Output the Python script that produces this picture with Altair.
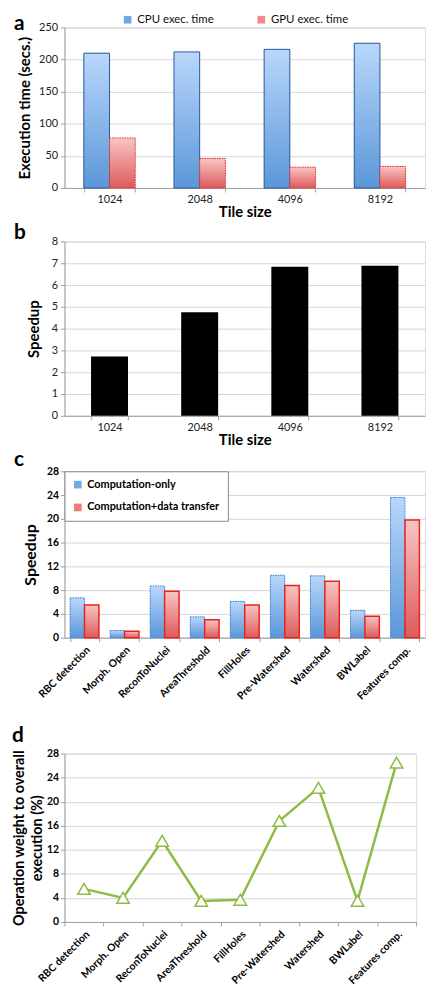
import altair as alt
import pandas as pd

# ---------------- data ----------------
tiles = ["1024", "2048", "4096", "8192"]
cpu_time = [210, 212, 216, 225.5]
gpu_time = [78, 46, 32.5, 33.5]
tile_speedup = [2.72, 4.75, 6.84, 6.89]

ops = ["RBC detection", "Morph. Open", "ReconToNuclei", "AreaThreshold", "FillHoles",
       "Pre-Watershed", "Watershed", "BWLabel", "Features comp."]
comp_only = [6.7, 1.2, 8.7, 3.5, 6.1, 10.5, 10.4, 4.6, 23.6]
comp_transfer = [5.5, 1.1, 7.8, 3.0, 5.5, 8.8, 9.5, 3.6, 19.8]
op_weight = [5.5, 4.0, 13.5, 3.5, 3.7, 16.8, 22.3, 3.5, 26.5]

series_a = ["CPU exec. time", "GPU exec. time"]
series_c = ["Computation-only", "Computation+data transfer"]

FONT = "Lato"
GRID = "#d6d6d6"
DOMAIN = "#a0a0a0"

def grad(top, bottom):
    return alt.LinearGradient(
        gradient="linear",
        stops=[alt.GradientStop(color=top, offset=0), alt.GradientStop(color=bottom, offset=1)],
        x1=0, x2=0, y1=0, y2=1)

BLUE_G = grad("#b9d7fb", "#5b97d9")
RED_G = grad("#f9c4c4", "#dd5b5b")

def letter(ch, x, y):
    return alt.Chart(alt.Data(values=[{"k": 1}])).mark_text(
        text=ch, font=FONT, fontSize=21, fontWeight="bold", align="left",
        baseline="alphabetic", color="black"
    ).encode(x=alt.value(x), y=alt.value(y))

def band_axis(title):
    return alt.Axis(title=title, labelAngle=0, tickBand="extent", labelFontSize=11,
                    labelColor="#222", titleFontSize=15, titleFontWeight="bold",
                    titlePadding=0, labelPadding=2, tickSize=4, domainColor=DOMAIN,
                    tickColor=DOMAIN, labelFont=FONT, titleFont=FONT)

def rot_axis():
    return alt.Axis(title=None, labelAngle=-45, tickBand="extent", labelFontSize=10.5,
                    labelFontWeight="bold", labelColor="black", labelPadding=3, tickSize=4,
                    domainColor=DOMAIN, tickColor=DOMAIN, labelFont=FONT)

# ---------------- panel a ----------------
dfa = pd.DataFrame({
    "tile": tiles * 2,
    "series": [series_a[0]] * 4 + [series_a[1]] * 4,
    "time": cpu_time + gpu_time,
})
xa = alt.X("tile:N", sort=tiles, scale=alt.Scale(paddingInner=0.43, paddingOuter=0.215),
           axis=band_axis("Tile size"))
ya = alt.Y("time:Q", scale=alt.Scale(domain=[0, 250], nice=False),
           axis=alt.Axis(title="Execution time (secs.)", values=[0, 50, 100, 150, 200, 250],
                         gridColor=GRID, domainColor=DOMAIN, tickColor=DOMAIN, tickSize=4,
                         labelFontSize=11, labelColor="#222", titleFontSize=15,
                         titleFontWeight="bold", titlePadding=6, labelPadding=3,
                         labelFont=FONT, titleFont=FONT))
xoa = alt.XOffset("series:N", sort=series_a)
base_a = alt.Chart(dfa)
a0 = base_a.mark_bar().encode(
    x=xa, xOffset=xoa, y=ya,
    color=alt.Color("series:N", sort=series_a,
                    scale=alt.Scale(domain=series_a, range=["#6fa6e4", "#f08a8a"]),
                    legend=alt.Legend(title=None, orient="none", direction="horizontal",
                                      legendX=58, legendY=-14, symbolType="square",
                                      symbolSize=60, symbolStrokeWidth=1,
                                      labelFontSize=11.5, labelFont=FONT, columnPadding=42,
                                      labelColor="#111")))
a1 = base_a.transform_filter(alt.datum.series == series_a[0]).mark_bar(
    fill=BLUE_G, stroke="#2d5a96", strokeWidth=1).encode(x=xa, xOffset=xoa, y=ya)
a2 = base_a.transform_filter(alt.datum.series == series_a[1]).mark_bar(
    fill=RED_G, stroke="#e5302a", strokeWidth=1, strokeDash=[1.5, 1]).encode(x=xa, xOffset=xoa, y=ya)
panel_a = alt.layer(a0, a1, a2, letter("a", -51, 3)).properties(width=364, height=162)

# ---------------- panel b ----------------
dfb = pd.DataFrame({"tile": tiles, "speedup": tile_speedup})
panel_b_bars = alt.Chart(dfb).mark_bar(color="black").encode(
    x=alt.X("tile:N", sort=tiles, scale=alt.Scale(paddingInner=0.59, paddingOuter=0.295),
            axis=band_axis("Tile size")),
    y=alt.Y("speedup:Q", scale=alt.Scale(domain=[0, 8], nice=False),
            axis=alt.Axis(title="Speedup", values=list(range(0, 9)), gridColor=GRID,
                          domainColor=DOMAIN, tickColor=DOMAIN, tickSize=4, labelFontSize=11,
                          labelColor="#222", titleFontSize=15, titleFontWeight="bold",
                          titlePadding=10, labelPadding=3, labelFont=FONT, titleFont=FONT)))
panel_b = alt.layer(panel_b_bars, letter("b", -51, -3)).properties(width=364, height=176)

# ---------------- panel c ----------------
dfc = pd.DataFrame({
    "op": ops * 2,
    "series": [series_c[0]] * 9 + [series_c[1]] * 9,
    "speedup": comp_only + comp_transfer,
})
xc = alt.X("op:N", sort=ops, scale=alt.Scale(paddingInner=0.28, paddingOuter=0.14),
           axis=rot_axis())
yc = alt.Y("speedup:Q", scale=alt.Scale(domain=[0, 28], nice=False),
           axis=alt.Axis(title="Speedup", values=list(range(0, 29, 4)), gridColor=GRID,
                         domainColor=DOMAIN, tickColor=DOMAIN, tickSize=4, labelFontSize=10.5,
                         labelFontWeight="bold", labelColor="black", titleFontSize=16,
                         titleFontWeight="bold", titlePadding=8, labelPadding=2,
                         labelFont=FONT, titleFont=FONT))
xoc = alt.XOffset("series:N", sort=series_c)
base_c = alt.Chart(dfc)
c0 = base_c.mark_bar().encode(
    x=xc, xOffset=xoc, y=yc,
    color=alt.Color("series:N", sort=series_c,
                    scale=alt.Scale(domain=series_c, range=["#74aae6", "#f07a78"]),
                    legend=alt.Legend(title=None, orient="top-left", offset=0, direction="vertical",
                                      symbolType="square", symbolSize=60, labelFontSize=11,
                                      labelFontWeight="bold", labelFont=FONT, labelColor="black",
                                      rowPadding=11, padding=8, fillColor="white",
                                      strokeColor="#888888", labelLimit=200)))
c1 = base_c.transform_filter(alt.datum.series == series_c[0]).mark_bar(
    fill=BLUE_G, stroke="#3f7fcf", strokeWidth=1, strokeDash=[1.5, 1]).encode(x=xc, xOffset=xoc, y=yc)
c2 = base_c.transform_filter(alt.datum.series == series_c[1]).mark_bar(
    fill=RED_G, stroke="#e8231c", strokeWidth=1.5).encode(x=xc, xOffset=xoc, y=yc)
panel_c = alt.layer(c0, c1, c2, letter("c", -51, -5)).properties(width=364, height=168)

# ---------------- panel d ----------------
dfd = pd.DataFrame({"op": ops, "weight": op_weight})
xd = alt.X("op:N", sort=ops, scale=alt.Scale(type="band", paddingInner=0, paddingOuter=0),
           axis=rot_axis())
yd = alt.Y("weight:Q", scale=alt.Scale(domain=[0, 28], nice=False),
           axis=alt.Axis(title=["Operation weight to overall", "execution (%)"],
                         values=list(range(0, 29, 4)), gridColor=GRID, domainColor=DOMAIN,
                         tickColor=DOMAIN, tickSize=4, labelFontSize=10.5, labelFontWeight="bold",
                         labelColor="black", titleFontSize=14.5, titleFontWeight="bold",
                         titlePadding=2, labelPadding=2, titleLineHeight=18,
                         labelFont=FONT, titleFont=FONT))
base_d = alt.Chart(dfd)
d_line = base_d.mark_line(color="#8dbb45", strokeWidth=2.5).encode(x=xd, y=yd)
d_pts = base_d.mark_point(shape="triangle-up", size=160, filled=True, fill="white",
                          stroke="#8dbb45", strokeWidth=1.5, opacity=1).encode(x=xd, y=yd)
spacer = alt.Chart(alt.Data(values=[{"k": 1}])).mark_rule(opacity=0).encode(
    x=alt.value(0), y=alt.value(-50), y2=alt.value(-49))
panel_d = alt.layer(d_line, d_pts, letter("d", -53, -12), spacer).properties(width=355, height=170)

chart = alt.vconcat(panel_a, panel_b, panel_c, panel_d, spacing=0).resolve_scale(
    x="independent", y="independent", color="independent", xOffset="independent"
).resolve_legend(color="independent").properties(
    padding={"left": 3, "top": 0, "right": 0, "bottom": 0}
).configure_view(stroke=None).configure(background="white")

chart.save("out.html", embed_options={"renderer": "svg", "actions": False})
